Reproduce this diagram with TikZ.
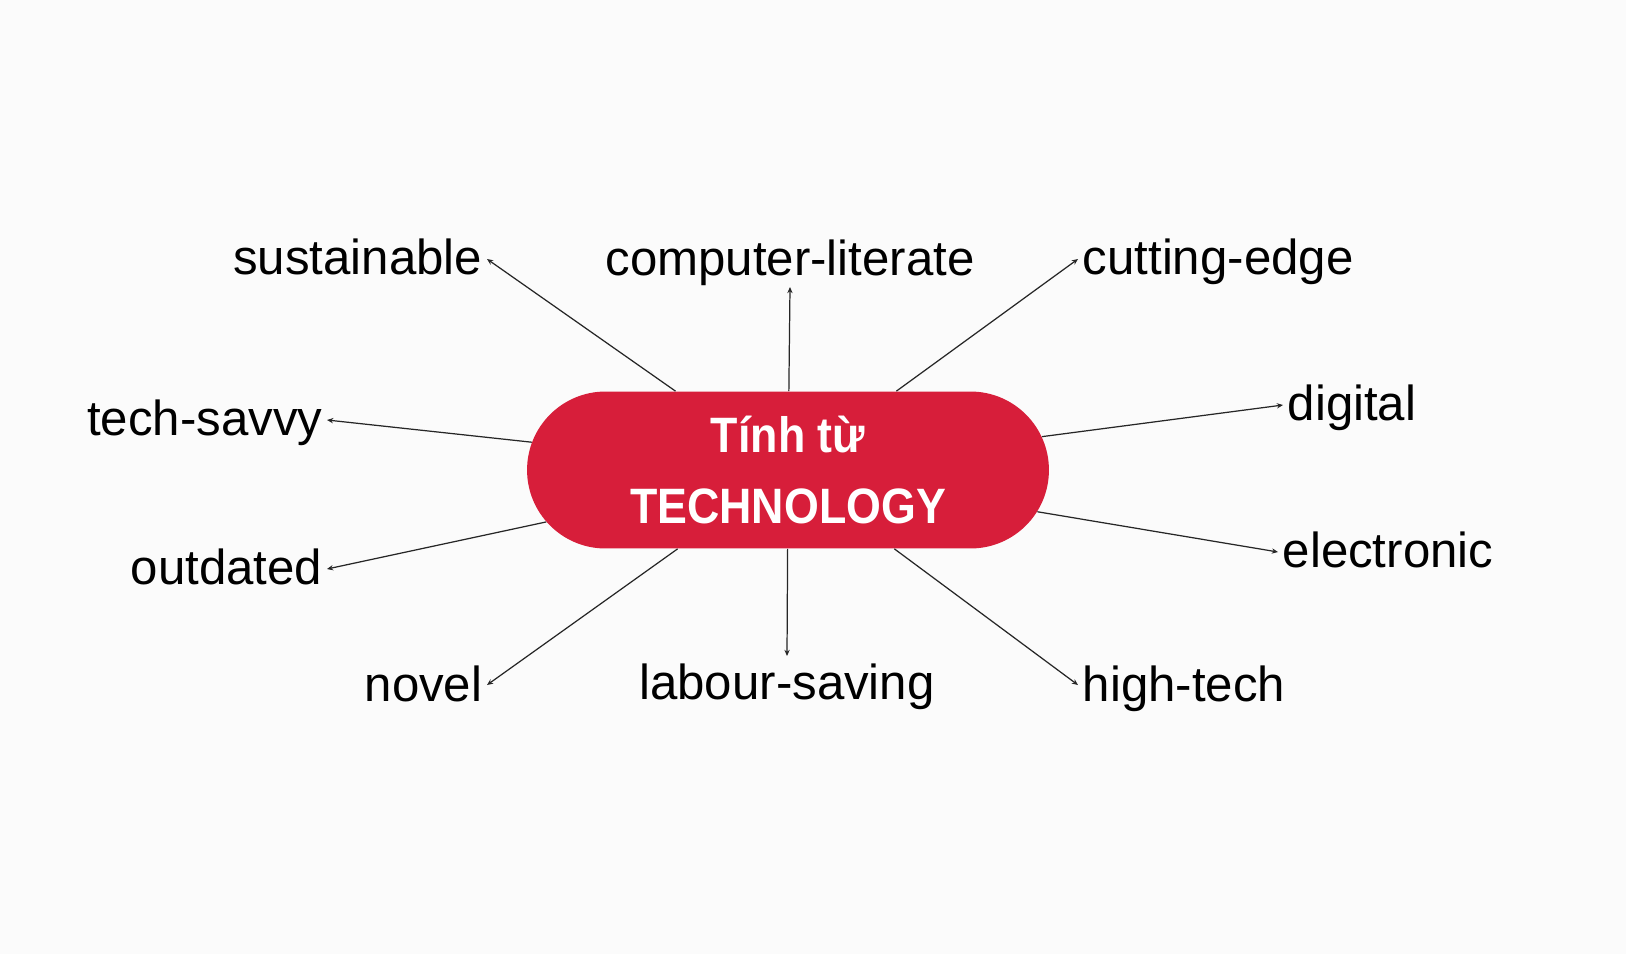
\documentclass[tikz,border=0pt]{standalone}
\usepackage{fontspec}
\setmainfont{Liberation Sans}
\newfontfamily\hubfont{Liberation Sans}[FakeStretch=0.9]
\usepackage{xcolor}
\usetikzlibrary{arrows.meta,positioning,shapes.misc}
\definecolor{hubred}{RGB}{215,30,58}
\definecolor{paper}{RGB}{251,251,251}

\begin{document}
\begin{tikzpicture}[x=0.02cm, y=-0.02cm, every node/.style={align=center},
  hub/.style={rounded rectangle, fill=hubred, text=white, minimum width=10.44cm, minimum height=3.14cm, inner sep=0pt, font=\hubfont\bfseries\fontsize{28.3}{40}\selectfont},
  word/.style={font=\fontsize{28}{34}\selectfont, text height=21.8pt, text depth=3.6pt, inner sep=2.5pt},
  link/.style={-{Stealth[length=3.5pt,width=3pt]}, line width=0.7pt, draw=black!85}]
\fill[paper] (0,0) rectangle (1626,954);
\node[hub] (hub) at (788,470) {Tính từ\\TECHNOLOGY};
\node[word, anchor=east] (sust) at (487,259) {sustainable};
\node[word, anchor=south] (comp) at (790,287) {computer-literate};
\node[word, anchor=west] (cut) at (1078,259) {cutting-edge};
\node[word, anchor=east] (savvy) at (327,420) {tech-savvy};
\node[word, anchor=west] (digi) at (1283,405) {digital};
\node[word, anchor=east] (outd) at (327,569) {outdated};
\node[word, anchor=west] (elec) at (1278,552) {electronic};
\node[word, anchor=east] (novel) at (487,685) {novel};
\node[word, anchor=north] (labour) at (787,656) {labour-saving};
\node[word, anchor=west] (hitech) at (1078,685) {high-tech};
\draw[link] (hub) -- (sust.east);
\draw[link] (hub) -- (comp.south);
\draw[link] (hub) -- (cut.west);
\draw[link] (hub) -- (savvy.east);
\draw[link] (hub) -- (digi.west);
\draw[link] (hub) -- (outd.east);
\draw[link] (hub) -- (elec.west);
\draw[link] (hub) -- (novel.east);
\draw[link] (hub) -- (labour.north);
\draw[link] (hub) -- (hitech.west);
\end{tikzpicture}
\end{document}
